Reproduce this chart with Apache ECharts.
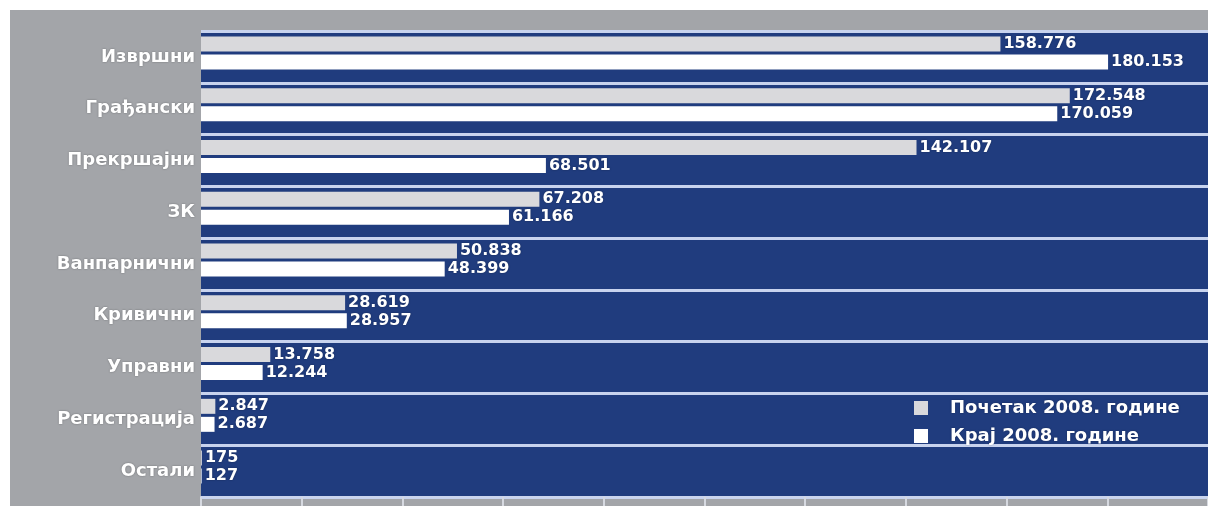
<!DOCTYPE html>
<html>
<head>
<meta charset="utf-8">
<script src="https://cdn.jsdelivr.net/npm/echarts@6/dist/echarts.min.js"></script>
<style>
  html, body { margin: 0; padding: 0; background: #fff; }
  #chart { width: 1208px; height: 506px; }
</style>
</head>
<body>
<div id="chart"></div>
<script>
const categories = ['Извршни', 'Грађански', 'Прекршајни', 'ЗК', 'Ванпарнични', 'Кривични', 'Управни', 'Регистрација', 'Остали']
const startValues = [158776, 172548, 142107, 67208, 50838, 28619, 13758, 2847, 175]
const endValues = [180153, 170059, 68501, 61166, 48399, 28957, 12244, 2687, 127]
const seriesNames = ['Почетак 2008. године', 'Крај 2008. године']

const font = 'DejaVu Sans'

// 158776 -> 158.776
const fmt = (v) => String(v).replace(/\B(?=(\d{3})+(?!\d))/g, '.')

const valueLabel = {
  show: true,
  position: 'right',
  distance: 3,
  color: '#fff',
  fontFamily: font,
  fontWeight: 'bold',
  fontSize: 16,
  textShadowColor: 'rgba(0,0,0,0.35)',
  textShadowBlur: 2,
  formatter: (p) => fmt(p.value),
}

const chart = echarts.init(document.getElementById('chart'))
chart.setOption({
  backgroundColor: '#fff',
  animation: false,
  graphic: [
    {
      type: 'rect',
      z: -10,
      shape: { x: 10, y: 10, width: 1198, height: 496 },
      style: { fill: '#a3a5a9' },
    },
  ],
  grid: {
    left: 201,
    right: 0,
    top: 31,
    bottom: 9,
    show: true,
    backgroundColor: '#203c7e',
    borderWidth: 0,
  },
  legend: {
    data: seriesNames,
    orient: 'vertical',
    left: 909,
    top: 394,
    itemWidth: 14,
    itemHeight: 14,
    itemGap: 10,
    icon: 'rect',
    textStyle: {
      color: '#fff',
      fontFamily: font,
      fontWeight: 'bold',
      fontSize: 18,
      padding: [0, 0, 0, 17],
      textShadowColor: 'rgba(0,0,0,0.35)',
      textShadowBlur: 2,
    },
  },
  xAxis: {
    type: 'value',
    min: 0,
    max: 200000,
    interval: 20000,
    axisLabel: { show: false },
    splitLine: { show: false },
    axisLine: { show: true, lineStyle: { color: '#cbd5ee', width: 2 } },
    axisTick: { show: true, length: 9, lineStyle: { color: '#d6d9e0', width: 2 } },
  },
  yAxis: {
    type: 'category',
    inverse: true,
    data: categories,
    axisLine: { show: false },
    axisTick: { show: false },
    splitLine: { show: true, lineStyle: { color: '#c8d3ee', width: 3 } },
    axisLabel: {
      color: '#fff',
      fontFamily: font,
      fontWeight: 'bold',
      fontSize: 18,
      margin: 6,
      textShadowColor: 'rgba(0,0,0,0.35)',
      textShadowBlur: 2,
    },
  },
  series: [
    {
      name: seriesNames[0],
      type: 'bar',
      data: startValues,
      barWidth: 15,
      barGap: '20%',
      itemStyle: { color: '#d9d9dc' },
      label: valueLabel,
    },
    {
      name: seriesNames[1],
      type: 'bar',
      data: endValues,
      barWidth: 15,
      barGap: '20%',
      itemStyle: { color: '#ffffff' },
      label: valueLabel,
    },
    {
      // empty spacer so the pair sits a little above the band centre
      name: 'spacer',
      type: 'bar',
      data: categories.map(() => 0),
      barWidth: 5,
      barGap: '20%',
      silent: true,
      itemStyle: { opacity: 0 },
    },
  ],
})
</script>
</body>
</html>
